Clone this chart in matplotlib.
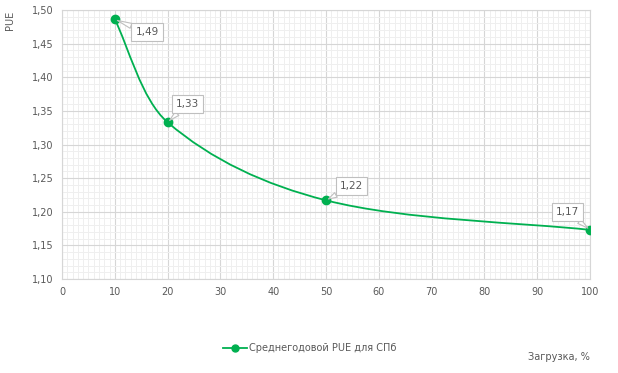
import numpy as np
import matplotlib.pyplot as plt
from matplotlib.path import Path
from matplotlib.patches import PathPatch
from matplotlib.ticker import MultipleLocator, FuncFormatter

# данные
load_pct = [10, 20, 50, 100]
pue = [1.486, 1.333, 1.217, 1.173]
pue_labels = ["1,49", "1,33", "1,22", "1,17"]
label_pos = [(16.1, 1.467), (23.7, 1.360), (54.9, 1.238), (95.8, 1.1996)]

green = "#00b050"
grey_txt = "#595959"

plt.rcParams['font.family'] = ['DejaVu Sans']

fig = plt.figure(figsize=(6.18, 3.73), dpi=100)
ax = fig.add_axes([62 / 618, 1 - 279 / 373, 528 / 618, 269 / 373])

ax.set_xlim(0, 100)
ax.set_ylim(1.10, 1.50)
ax.xaxis.set_major_locator(MultipleLocator(10))
ax.xaxis.set_minor_locator(MultipleLocator(1))
ax.yaxis.set_major_locator(MultipleLocator(0.05))
ax.yaxis.set_minor_locator(MultipleLocator(0.01))
ax.yaxis.set_major_formatter(FuncFormatter(lambda v, p: f"{v:.2f}".replace(".", ",")))
ax.grid(which='minor', color='#efefef', linewidth=0.7)
ax.grid(which='major', color='#d6d6d6', linewidth=0.8)
ax.set_axisbelow(True)
for s in ax.spines.values():
    s.set_color('#d6d6d6')
    s.set_linewidth(0.8)
ax.tick_params(which='both', length=0, labelsize=7, colors=grey_txt, pad=6)

# сглаженная линия (как в Excel): кривые Безье через точки,
# касательные - среднее между Catmull-Rom и неравномерным вариантом по x
pts = np.column_stack([load_pct, pue]).astype(float)
n = len(pts)


def tangent(i):
    # производная dy/dx в точке i
    if i == 0:
        return (pts[1, 1] - pts[0, 1]) / (pts[1, 0] - pts[0, 0])
    if i == n - 1:
        return (pts[-1, 1] - pts[-2, 1]) / (pts[-1, 0] - pts[-2, 0])
    return (pts[i + 1, 1] - pts[i - 1, 1]) / (pts[i + 1, 0] - pts[i - 1, 0])


verts = [tuple(pts[0])]
codes = [Path.MOVETO]
for i in range(n - 1):
    p0 = pts[max(i - 1, 0)]
    p1 = pts[i]
    p2 = pts[i + 1]
    p3 = pts[min(i + 2, n - 1)]
    h = p2[0] - p1[0]
    cr1 = p1 + (p2 - p0) / 6
    cr2 = p2 - (p3 - p1) / 6
    he1 = p1 + np.array([h / 3, tangent(i) * h / 3])
    he2 = p2 - np.array([h / 3, tangent(i + 1) * h / 3])
    c1 = (cr1 + he1) / 2
    c2 = (cr2 + he2) / 2
    verts += [tuple(c1), tuple(c2), tuple(p2)]
    codes += [Path.CURVE4] * 3
ax.add_patch(PathPatch(Path(verts, codes), fc='none', ec=green, lw=1.3, zorder=3))
ax.plot(load_pct, pue, 'o', color=green, ms=6, zorder=4)

for x, y, t, (tx, ty) in zip(load_pct, pue, pue_labels, label_pos):
    ax.annotate(t, xy=(x, y), xytext=(tx, ty), textcoords='data',
                ha='center', va='center', fontsize=7.5, color=grey_txt, zorder=5,
                bbox=dict(boxstyle='square,pad=0.38', fc='white', ec='#bfbfbf', lw=0.8),
                arrowprops=dict(arrowstyle='wedge,tail_width=0.5,shrink_factor=0.5',
                                fc='white', ec='#bfbfbf', lw=0.8, shrinkA=0, shrinkB=2))

fig.text(10 / 618, 1 - 20 / 373, "PUE", rotation=90, ha='center', va='center',
         fontsize=7, color=grey_txt)
fig.text(590 / 618, 1 - 357 / 373, "Загрузка, %", ha='right', va='center',
         fontsize=7, color=grey_txt)

ax.plot([], [], '-o', color=green, ms=5, lw=1.3, label="Среднегодовой PUE для СПб")
leg = fig.legend(loc='center', bbox_to_anchor=(310 / 618, 1 - 348 / 373), frameon=False,
                 fontsize=7, handlelength=2.5, handletextpad=0.2)
for t in leg.get_texts():
    t.set_color(grey_txt)

fig.savefig("out.png", dpi=100)
